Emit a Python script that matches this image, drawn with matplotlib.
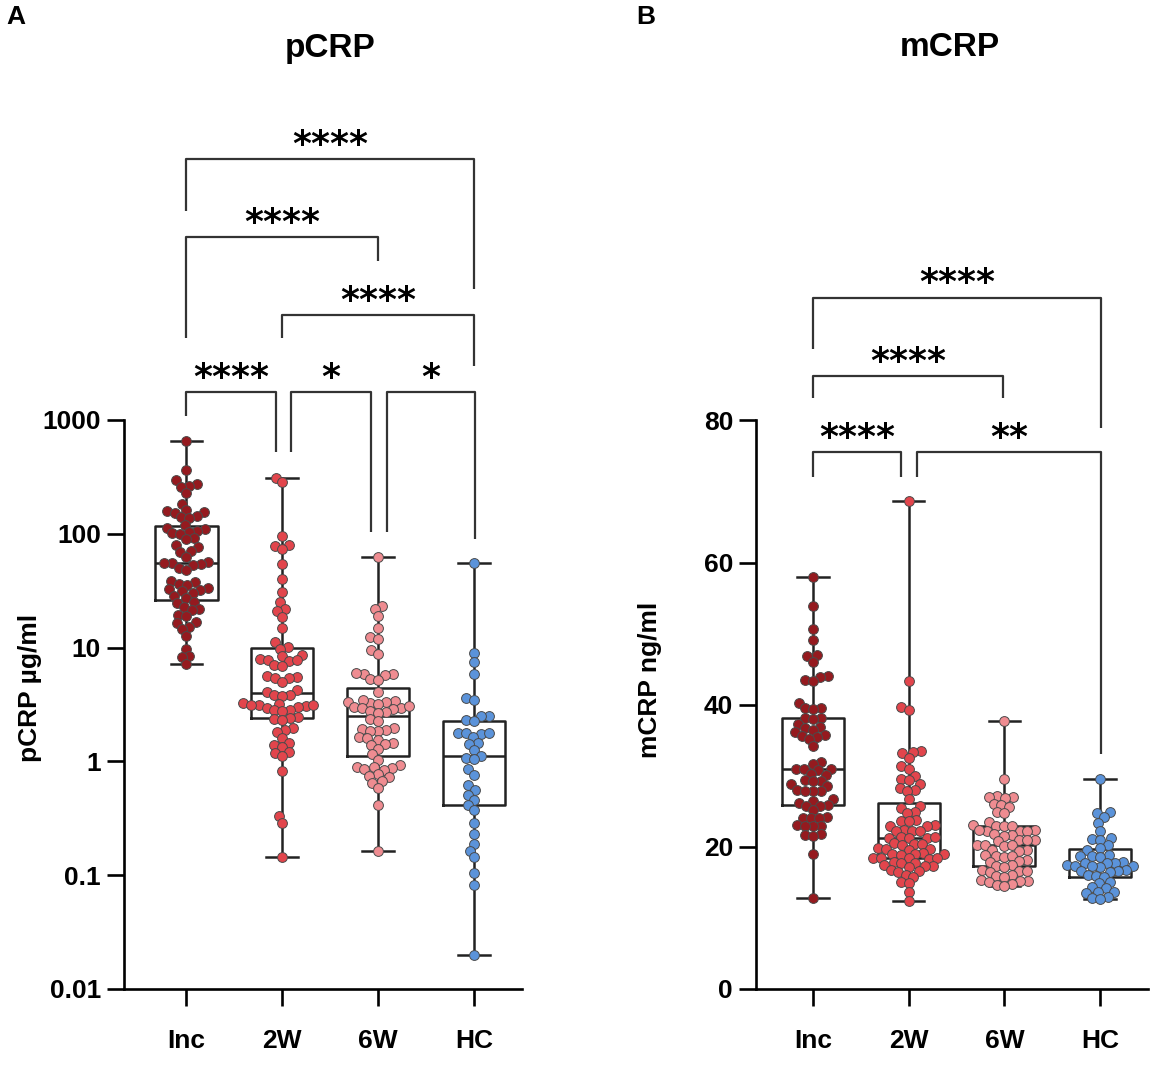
import numpy as np
import matplotlib
matplotlib.use("Agg")
import matplotlib.pyplot as plt
from matplotlib.ticker import NullLocator

plt.rcParams['font.family'] = ['Liberation Sans', 'DejaVu Sans']
plt.rcParams['font.weight'] = 'bold'

groups = ['Inc', '2W', '6W', 'HC']
colors = ['#951A1F', '#E2454C', '#EF8C91', '#5B93DA']

# pCRP (ug/ml)
pcrp_inc = [650, 364, 294, 275, 265, 258, 228, 183, 160, 157, 155, 152, 142, 140, 137,
            120, 113, 110, 106, 104, 101, 99, 91, 89, 79, 77, 71, 69, 62, 56, 55, 55,
            54, 53, 50, 48, 38.5, 37.5, 36.5, 35.5, 33, 32.5, 32, 31.5, 30, 28.5, 27.5,
            25, 24.5, 22.5, 22, 21.5, 19.5, 19, 16.8, 16.4, 15.2, 14.4, 12.6, 9.8, 8.4,
            8.2, 7.2]
pcrp_2w = [310, 284, 96, 80, 78, 74, 54, 40, 31, 25, 22, 21, 18.6, 14.7, 11.2, 10.1, 9.8,
           8.6, 8.4, 7.9, 7.8, 7.6, 7.7, 7.0, 6.9, 5.6, 5.5, 5.4, 5.45, 5.0, 4.2, 4.1, 3.85,
           3.8, 3.75, 3.25, 3.2, 3.1, 3.05, 3.0, 3.15, 3.12, 2.95, 2.85, 2.8, 2.75, 2.45,
           2.4, 2.35, 2.3, 1.95, 1.88, 1.82, 1.6, 1.45, 1.4, 1.35, 1.22, 1.18, 1.12, 0.82,
           0.33, 0.286, 0.144]
pcrp_6w = [62, 23, 22, 19, 14.8, 12.4, 12.0, 9.5, 8.7, 5.9, 5.8, 5.7, 6.0, 5.3, 5.2, 4.1,
           3.4, 3.3, 3.25, 3.45, 3.2, 3.35, 3.0, 2.96, 2.9, 3.05, 2.93, 2.76, 2.72, 2.66,
           2.35, 2.25, 1.95, 1.88, 1.84, 1.91, 1.86, 1.62, 1.59, 1.55, 1.44, 1.41, 1.38, 1.28,
           1.15, 1.03, 0.92, 0.9, 0.86, 0.885, 0.87, 0.84, 0.77, 0.75, 0.73, 0.67, 0.65,
           0.58, 0.41, 0.164]
pcrp_hc = [55, 8.9, 7.5, 5.8, 3.6, 3.45, 2.52, 2.48, 2.32, 2.28, 1.78, 1.76, 1.75, 1.77,
           1.65, 1.45, 1.43, 1.26, 1.12, 1.06, 1.04, 0.85, 0.76, 0.62, 0.56, 0.51, 0.457,
           0.41, 0.37, 0.286, 0.229, 0.187, 0.164, 0.143, 0.104, 0.082, 0.02]

# mCRP (ng/ml)
mcrp_inc = [58.0, 53.9, 50.6, 49.1, 47.0, 46.8, 46.0, 44.0, 43.9, 43.5, 43.3, 40.2, 39.6,
            39.5, 39.4, 38.2, 38.1, 38.0, 37.3, 36.9, 36.7, 36.4, 36.2, 35.8, 35.6, 35.4,
            35.2, 34.2, 31.9, 31.7, 31.0, 30.9, 30.8, 30.9, 30.3, 30.1, 29.4, 29.3, 29.2,
            28.8, 28.6, 28.0, 27.9, 27.8, 27.9, 26.7, 26.4, 26.2, 25.9, 25.8, 25.7, 25.2,
            24.2, 24.1, 24.0, 24.1, 23.1, 23.0, 22.9, 23.0, 21.8, 21.7, 21.6, 19.0, 12.8]
mcrp_2w = [68.7, 43.4, 39.7, 39.3, 33.5, 33.4, 33.2, 32.5, 31.4, 30.9, 30.0, 29.6, 29.4,
           28.8, 28.3, 28.0, 27.8, 26.7, 25.7, 25.5, 24.9, 24.7, 23.8, 23.7, 23.6, 23.1,
           23.0, 22.9, 22.4, 22.3, 22.2, 22.3, 21.4, 21.3, 21.2, 21.3, 21.35, 20.5, 20.4,
           20.3, 20.4, 19.8, 19.7, 19.6, 19.7, 19.1, 19.0, 18.9, 19.0, 19.05, 18.5, 18.4,
           18.3, 18.4, 18.45, 17.9, 17.8, 17.7, 17.4, 17.3, 17.2, 17.3, 16.7, 16.6, 16.5,
           16.0, 15.8, 15.1, 14.9, 13.6, 12.4]
mcrp_6w = [37.7, 29.6, 27.1, 27.0, 26.9, 27.0, 26.1, 25.9, 25.6, 24.9, 24.7, 23.5, 23.1,
           23.0, 22.9, 23.0, 22.4, 22.3, 22.2, 22.3, 22.35, 21.8, 21.7, 21.6, 21.0, 20.9,
           20.8, 20.9, 20.3, 20.2, 20.1, 20.2, 19.6, 19.5, 19.4, 18.8, 18.7, 18.6, 18.7,
           18.1, 18.0, 17.9, 17.4, 17.3, 17.2, 16.7, 16.6, 16.5, 16.6, 16.0, 15.9, 15.8,
           15.3, 15.2, 15.1, 15.2, 14.8, 14.7, 14.5]
mcrp_hc = [29.5, 24.9, 24.7, 24.2, 23.4, 22.3, 21.2, 21.1, 21.0, 20.2, 19.8, 19.6, 18.8,
           18.7, 18.6, 18.7, 17.9, 17.8, 17.7, 17.8, 17.4, 17.3, 17.2, 17.3, 17.35, 16.7,
           16.6, 16.5, 16.6, 16.0, 15.9, 15.8, 15.1, 14.9, 14.4, 14.2, 13.7, 13.6, 13.5,
           13.0, 12.8, 12.6]

pcrp = [pcrp_inc, pcrp_2w, pcrp_6w, pcrp_hc]
mcrp = [mcrp_inc, mcrp_2w, mcrp_6w, mcrp_hc]

# significance brackets: (x1, x2, bar level, left leg end, right leg end, label)
sig_p = [(0, 3, 196000, 68500, 14200, '****'),
         (0, 2, 40600, 5250, 24900, '****'),
         (1, 3, 8360, 5250, 2980, '****'),
         (0, 0.94, 1760, 1080, 525, '****'),
         (1.09, 1.93, 1760, 525, 104, '*'),
         (2.09, 3.01, 1760, 104, 90, '*')]
sig_m = [(0, 3.01, 97.3, 90.0, 79.0, '****'),
         (0, 1.99, 86.3, 83.1, 83.1, '****'),
         (0, 0.92, 75.6, 72.0, 72.0, '****'),
         (1.09, 3.01, 75.6, 72.0, 33.0, '**')]

W, H = 1173, 1066
fig = plt.figure(figsize=(W / 100, H / 100), dpi=100)
axA = fig.add_axes([124 / W, 1 - 989 / H, 398 / W, 889 / H])
axB = fig.add_axes([756 / W, 1 - 989 / H, 392 / W, 889 / H])


def swarm(ypix, d):
    # simple beeswarm: place each point as close to the centre as possible
    xs = np.zeros(len(ypix))
    placed = []
    for i in np.argsort(ypix):
        y = ypix[i]
        near = [(px, py) for px, py in placed if abs(py - y) < d]
        cands = [0.0]
        for px, py in near:
            dx = np.sqrt(d * d - (py - y) ** 2)
            cands += [px + dx, px - dx]
        cands.sort(key=lambda c: (abs(c), c))
        for c in cands:
            if all((c - px) ** 2 + (y - py) ** 2 >= d * d - 1e-6 for px, py in near):
                xs[i] = c
                break
        placed.append((xs[i], y))
    return xs


def draw_panel(ax, data, sig, ylabel, label_xy):
    for i, vals in enumerate(data):
        vals = np.array(vals, dtype=float)
        pts = ax.transData.transform(np.column_stack([np.full(len(vals), i), vals]))
        off = swarm(pts[:, 1], 8.0)
        xy = ax.transData.inverted().transform(np.column_stack([pts[:, 0] + off, pts[:, 1]]))
        ax.scatter(xy[:, 0], vals, s=50, color=colors[i], edgecolors='#4a4a4a',
                   linewidths=0.7, zorder=3)
    lp = dict(color='#222222', linewidth=1.8)
    ax.boxplot(data, positions=range(4), widths=0.65, whis=(0, 100), showfliers=False,
               capwidths=0.33, manage_ticks=False, boxprops=lp, whiskerprops=lp,
               capprops=lp, medianprops=lp, zorder=2)
    for x1, x2, y, l1, l2, txt in sig:
        ax.plot([x1, x1, x2, x2], [l1, y, y, l2], color='#333333', lw=1.6,
                clip_on=False, solid_capstyle='butt')
        ax.annotate(txt, ((x1 + x2) / 2, y), xytext=(0, 3), textcoords='offset points',
                    ha='center', va='baseline', fontsize=26, fontweight='bold',
                    family='DejaVu Sans')
    ax.set_xticks(range(4))
    ax.set_xticklabels(groups)
    ax.spines['top'].set_visible(False)
    ax.spines['right'].set_visible(False)
    for s in ['left', 'bottom']:
        ax.spines[s].set_linewidth(1.9)
    ax.tick_params(axis='both', width=1.9, length=12.5, labelsize=19)
    ax.tick_params(axis='x', pad=16)
    ax.tick_params(axis='y', pad=4)
    ax.set_ylabel(ylabel, fontsize=19, fontweight='bold')
    ax.yaxis.set_label_coords(*label_xy)


# panel A
axA.set_yscale('log')
axA.set_ylim(0.01, 10 ** 5.81)
axA.set_xlim(-0.65, 3.5)
axA.set_yticks([0.01, 0.1, 1, 10, 100, 1000])
axA.set_yticklabels(['0.01', '0.1', '1', '10', '100', '1000'])
axA.yaxis.set_minor_locator(NullLocator())
axA.spines['left'].set_bounds(0.01, 1000)
draw_panel(axA, pcrp, sig_p, 'pCRP µg/ml', (-0.205, 0.339))

# panel B
axB.set_ylim(0, 125.1)
axB.set_xlim(-0.594, 3.5)
axB.set_yticks([0, 20, 40, 60, 80])
axB.spines['left'].set_bounds(0, 80)
draw_panel(axB, mcrp, sig_m, 'mCRP ng/ml', (-0.24, 0.348))

fig.text(330 / W, 1 - 48 / H, 'pCRP', ha='center', va='center', fontsize=24, fontweight='bold')
fig.text(950 / W, 1 - 48 / H, 'mCRP', ha='center', va='center', fontsize=24, fontweight='bold')
fig.text(16 / W, 1 - 17 / H, 'A', ha='center', va='center', fontsize=19, fontweight='bold')
fig.text(646 / W, 1 - 17 / H, 'B', ha='center', va='center', fontsize=19, fontweight='bold')

fig.savefig('out.png', dpi=100)
